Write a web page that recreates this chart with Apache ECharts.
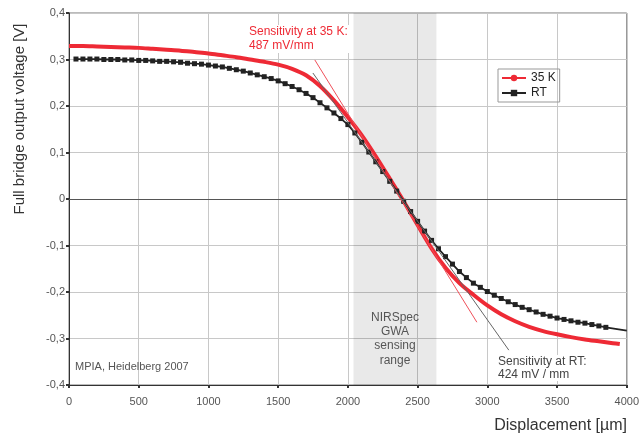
<!DOCTYPE html>
<html>
<head>
<meta charset="utf-8">
<script src="https://cdn.jsdelivr.net/npm/echarts@6/dist/echarts.min.js"></script>
<style>html,body{margin:0;padding:0;background:#fff}#c{width:642px;height:434px}</style>
</head>
<body>
<div id="c"></div>
<script>
// 35 K curve
const xRed = [0,100,200,300,400,500,600,700,800,900,1000,1100,1200,1300,1400,1500,1600,1700,1800,1900,2000,2100,2200,2300,2400,2500,2600,2700,2800,2900,3000,3100,3200,3300,3400,3500,3600,3700,3800,3900,3950];
const yRed = [0.329,0.329,0.328,0.327,0.326,0.325,0.323,0.321,0.319,0.316,0.313,0.309,0.305,0.300,0.295,0.289,0.280,0.266,0.243,0.212,0.176,0.137,0.092,0.044,-0.005,-0.056,-0.106,-0.148,-0.181,-0.206,-0.229,-0.248,-0.263,-0.275,-0.284,-0.291,-0.297,-0.302,-0.306,-0.310,-0.312];
// RT curve
const xRT = [50,100,150,200,250,300,350,400,450,500,550,600,650,700,750,800,850,900,950,1000,1050,1100,1150,1200,1250,1300,1350,1400,1450,1500,1550,1600,1650,1700,1750,1800,1850,1900,1950,2000,2050,2100,2150,2200,2250,2300,2350,2400,2450,2500,2550,2600,2650,2700,2750,2800,2850,2900,2950,3000,3050,3100,3150,3200,3250,3300,3350,3400,3450,3500,3550,3600,3650,3700,3750,3800,3850,4000];
const yRT = [0.301,0.301,0.301,0.301,0.300,0.300,0.300,0.299,0.299,0.298,0.298,0.297,0.296,0.296,0.295,0.294,0.292,0.291,0.290,0.288,0.286,0.284,0.281,0.278,0.275,0.271,0.267,0.263,0.259,0.254,0.248,0.242,0.235,0.227,0.218,0.207,0.196,0.185,0.173,0.160,0.142,0.122,0.101,0.080,0.059,0.038,0.017,-0.005,-0.027,-0.048,-0.069,-0.089,-0.107,-0.124,-0.140,-0.156,-0.169,-0.181,-0.190,-0.199,-0.207,-0.214,-0.221,-0.227,-0.233,-0.238,-0.243,-0.248,-0.252,-0.256,-0.259,-0.262,-0.265,-0.267,-0.270,-0.273,-0.276,-0.283];
// tangent lines (sensitivity)
const tan35K = [[1763,0.299],[2925,-0.265]];
const tanRT = [[1749,0.271],[3154,-0.325]];
// sensing range band
const bandRange = [2040, 2635];
const xTicks = [0,500,1000,1500,2000,2500,3000,3500,4000];
const yTicks = [-0.4,-0.3,-0.2,-0.1,0,0.1,0.2,0.3,0.4];

const FONT = 'Liberation Sans, Arial, sans-serif';
const redData = xRed.map((x,i)=>[x,yRed[i]]);
const rtData = xRT.map((x,i)=> i===xRT.length-1 ? {value:[x,yRT[i]], symbol:'none'} : [x,yRT[i]]);
const fmtY = v => { if (Math.abs(v) < 1e-9) return '0'; return v.toFixed(1).replace('.', ','); };
const fmtX = v => String(Math.round(v));

const chart = echarts.init(document.getElementById('c'), null, {renderer:'canvas'});
chart.setOption({
  animation:false,
  backgroundColor:'#fff',
  grid:{left:69,right:15,top:13,bottom:49,show:true,borderColor:'#777',borderWidth:1},
  xAxis:{type:'value',min:xTicks[0],max:xTicks[xTicks.length-1],interval:500,
    axisLine:{show:true,onZero:false,lineStyle:{color:'#333',width:1}},
    axisTick:{show:true,length:3,lineStyle:{color:'#333',width:2}},
    axisLabel:{color:'#555',fontSize:11,fontFamily:FONT,margin:11,formatter:fmtX},
    splitLine:{show:true,lineStyle:{color:'#c8c8c8',width:1}}},
  yAxis:{type:'value',min:yTicks[0],max:yTicks[yTicks.length-1],interval:0.1,
    axisLine:{show:true,onZero:false,lineStyle:{color:'#333',width:1}},
    axisTick:{show:true,length:3,lineStyle:{color:'#333',width:2}},
    axisLabel:{color:'#555',fontSize:11,fontFamily:FONT,margin:4,formatter:fmtY},
    splitLine:{show:true,lineStyle:{color:'#c8c8c8',width:1}}},
  legend:{orient:'vertical',left:498,top:69,data:['35 K','RT'],
    borderColor:'#999',borderWidth:1,padding:[3,4,3,3],itemGap:3,itemWidth:24,itemHeight:8,
    textStyle:{fontSize:12,color:'#222',fontFamily:FONT}},
  series:[
    {name:'band',type:'line',data:[],silent:true,
      markArea:{silent:true,itemStyle:{color:'rgba(0,0,0,0.085)'},data:[[{xAxis:bandRange[0]},{xAxis:bandRange[1]}]]},
      markLine:{silent:true,symbol:'none',label:{show:false},lineStyle:{color:'#555',width:1,type:'solid'},data:[{yAxis:0}]}},
    {name:'35 K',type:'line',data:redData,smooth:0.3,showSymbol:false,symbol:'circle',symbolSize:3,
      lineStyle:{color:'#ee2a35',width:4},itemStyle:{color:'#ee2a35'},z:3},
    {name:'RT',type:'line',data:rtData,smooth:false,showSymbol:true,symbol:'rect',symbolSize:5,
      lineStyle:{color:'#222',width:1.8},itemStyle:{color:'#222'},z:4},
    {name:'tan35',type:'line',data:tan35K,showSymbol:false,symbol:'none',lineStyle:{color:'#f0505a',width:1},z:5},
    {name:'tanRT',type:'line',data:tanRT,showSymbol:false,symbol:'none',lineStyle:{color:'#666',width:1},z:5}
  ],
  graphic:[
    {type:'text',x:20,y:119,rotation:Math.PI/2,style:{text:'Full bridge output voltage [V]',font:'15px '+FONT,fill:'#333',align:'center',verticalAlign:'middle'}},
    {type:'text',x:627,y:426,style:{text:'Displacement [µm]',font:'16px '+FONT,fill:'#333',align:'right',verticalAlign:'middle'}},
    {type:'text',x:248,y:25,z:10,style:{text:'Sensitivity at 35 K:\n487 mV/mm',font:'12px '+FONT,fill:'#ee2a35',lineHeight:14,backgroundColor:'#fff',padding:[0,2,0,1]}},
    {type:'text',x:497,y:355,z:10,style:{text:'Sensitivity at RT:\n424 mV / mm',font:'12px '+FONT,fill:'#444',lineHeight:13,backgroundColor:'#fff',padding:[0,1,0,1]}},
    {type:'text',x:395,y:339,z:10,style:{text:'NIRSpec\nGWA\nsensing\nrange',font:'12px '+FONT,fill:'#555',lineHeight:14.3,align:'center',verticalAlign:'middle'}},
    {type:'text',x:75,y:367,z:10,style:{text:'MPIA, Heidelberg 2007',font:'11px '+FONT,fill:'#555',verticalAlign:'middle'}}
  ]
});
</script>
</body>
</html>
